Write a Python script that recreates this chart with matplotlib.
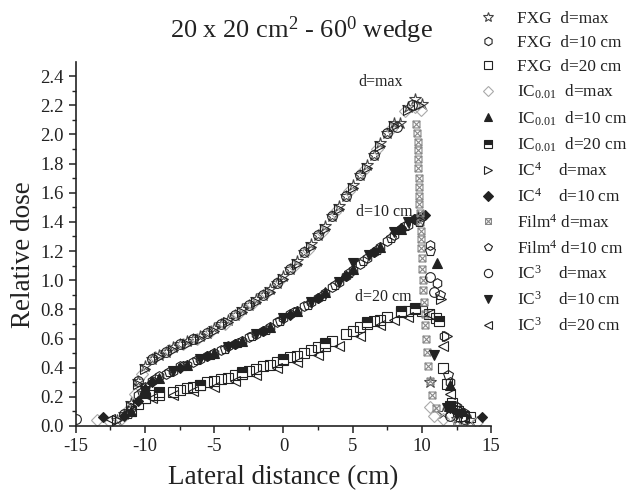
import numpy as np
import matplotlib
matplotlib.use("Agg")
import matplotlib.pyplot as plt
from matplotlib.path import Path

plt.rcParams['font.family'] = ['Liberation Serif', 'DejaVu Serif']
plt.rcParams['mathtext.fontset'] = 'custom'
plt.rcParams['mathtext.rm'] = 'Liberation Serif'
plt.rcParams['mathtext.default'] = 'regular'
plt.rcParams['axes.unicode_minus'] = False

# ---- data (lateral distance in cm, relative dose) ----
x_fxg_max = [-12.0, -11.5, -11.0, -10.5, -10.0, -9.5, -9.0, -8.5, -8.0, -7.5, -7.0, -6.5, -6.0, -5.5, -5.0,
             -4.5, -4.0, -3.5, -3.0, -2.5, -2.0, -1.5, -1.0, -0.5, 0.0, 0.5, 1.0, 1.5, 2.0, 2.5, 3.0, 3.5,
             4.0, 4.5, 5.0, 5.5, 6.0, 6.5, 7.0, 7.5, 8.0, 8.4, 9.0, 9.5, 10.0, 10.6, 11.5, 12.5, 13.5]
y_fxg_max = [0.04, 0.08, 0.16, 0.31, 0.41, 0.46, 0.49, 0.51, 0.54, 0.56, 0.58, 0.60, 0.62, 0.64, 0.67,
             0.70, 0.73, 0.76, 0.80, 0.83, 0.87, 0.90, 0.94, 0.98, 1.03, 1.08, 1.13, 1.19, 1.25, 1.31, 1.37, 1.44,
             1.51, 1.58, 1.65, 1.72, 1.79, 1.86, 1.94, 2.01, 2.08, 2.08, 2.19, 2.24, 2.21, 0.30, 0.09, 0.05, 0.04]

x_fxg_10 = [-11.0, -10.5, -10.0, -9.5, -9.0, -8.5, -8.0, -7.5, -7.0, -6.5, -6.0, -5.5, -5.0, -4.5, -4.0,
            -3.5, -3.0, -2.5, -2.0, -1.5, -1.0, -0.5, 0.0, 0.5, 1.0, 1.5, 2.0, 2.5, 3.0, 3.5, 4.0, 4.5,
            5.0, 5.5, 6.0, 6.5, 7.0, 7.5, 8.0, 8.5, 9.0, 9.5, 10.0, 10.6, 11.1, 11.6, 12.0, 12.5, 13.0]
y_fxg_10 = [0.12, 0.21, 0.27, 0.31, 0.34, 0.36, 0.38, 0.41, 0.42, 0.44, 0.46, 0.48, 0.50, 0.52, 0.55,
            0.56, 0.58, 0.61, 0.63, 0.65, 0.68, 0.71, 0.74, 0.77, 0.79, 0.82, 0.85, 0.88, 0.91, 0.95, 0.99, 1.03,
            1.07, 1.11, 1.15, 1.19, 1.23, 1.27, 1.31, 1.35, 1.38, 1.42, 1.44, 1.24, 0.98, 0.62, 0.30, 0.13, 0.09]

x_fxg_20 = [-11.0, -10.5, -10.0, -9.5, -9.0, -8.0, -7.5, -7.0, -6.5, -6.0, -5.5, -5.0, -4.5, -4.0, -3.5,
            -3.0, -2.5, -2.0, -1.5, -1.0, -0.5, 0.0, 0.5, 1.0, 1.5, 2.0, 2.5, 3.0, 3.5, 4.5, 5.0, 5.5,
            6.0, 6.5, 7.0, 7.5, 8.5, 9.0, 9.5, 10.0, 10.5, 11.0, 11.5, 11.8, 12.2, 12.6, 13.0, 13.5]
y_fxg_20 = [0.10, 0.15, 0.19, 0.21, 0.21, 0.23, 0.25, 0.26, 0.27, 0.28, 0.30, 0.31, 0.32, 0.33, 0.35,
            0.36, 0.38, 0.39, 0.41, 0.42, 0.44, 0.45, 0.47, 0.48, 0.50, 0.52, 0.54, 0.55, 0.58, 0.63, 0.65, 0.68,
            0.70, 0.72, 0.73, 0.75, 0.78, 0.79, 0.80, 0.79, 0.77, 0.74, 0.40, 0.29, 0.16, 0.10, 0.07, 0.06]

x_ic001_max = [-13.5, -12.5, -11.75, -11.25, -10.75, -10.25, -9.25, -8.25, -7.25, -6.25, -5.25, -4.25, -3.25,
               -2.25, -1.25, -0.25, 0.75, 1.75, 2.75, 3.75, 4.75, 5.75, 6.75, 7.75, 8.75, 9.5, 9.9, 10.6,
               10.9, 11.5, 12.5, 14.0]
y_ic001_max = [0.04, 0.03, 0.05, 0.11, 0.22, 0.36, 0.47, 0.52, 0.56, 0.60, 0.65, 0.70, 0.77,
               0.84, 0.91, 1.00, 1.10, 1.21, 1.33, 1.47, 1.61, 1.75, 1.90, 2.04, 2.16, 2.19, 2.17, 0.13,
               0.07, 0.05, 0.04, 0.03]

x_ic001_10 = [-11.0, -10.0, -9.0, -7.0, -5.0, -3.0, -1.0, 1.0, 3.0, 5.0, 7.0, 8.5, 9.7, 11.1, 12.0, 13.0]
y_ic001_10 = [0.10, 0.26, 0.33, 0.42, 0.50, 0.58, 0.68, 0.79, 0.92, 1.08, 1.23, 1.35, 1.44, 1.12, 0.28, 0.09]

x_ic001_20 = [-10.0, -9.0, -6.0, -3.0, 0.0, 3.0, 6.0, 8.5, 9.5, 11.2, 12.0, 12.8]
y_ic001_20 = [0.19, 0.23, 0.28, 0.37, 0.46, 0.57, 0.71, 0.79, 0.81, 0.72, 0.14, 0.07]

x_ic4_max = [-12.0, -11.0, -10.5, -10.0, -9.0, -8.0, -7.0, -6.0, -5.0, -4.0, -3.0, -2.0, -1.0, 0.0,
             1.0, 2.0, 3.0, 4.0, 5.0, 6.0, 7.0, 8.0, 9.0, 9.8, 11.4, 11.8, 12.5, 13.2]
y_ic4_max = [0.04, 0.14, 0.29, 0.39, 0.47, 0.52, 0.56, 0.60, 0.65, 0.71, 0.78, 0.85, 0.92, 1.01,
             1.11, 1.23, 1.35, 1.49, 1.63, 1.77, 1.92, 2.06, 2.17, 2.20, 0.87, 0.62, 0.12, 0.06]

x_ic4_10 = [-13.0, -11.5, -10.5, -9.5, -7.5, -5.5, -3.5, -1.5, 0.5, 2.5, 4.5, 6.5, 8.5, 9.4, 10.2, 12.0, 14.3]
y_ic4_10 = [0.06, 0.07, 0.17, 0.30, 0.40, 0.48, 0.56, 0.65, 0.76, 0.88, 1.03, 1.19, 1.36, 1.42, 1.45, 0.12, 0.06]

x_film_max = [9.6, 9.65, 9.7, 9.7, 9.7, 9.7, 9.75, 9.75, 9.8, 9.8, 9.85, 9.85, 9.9, 9.9, 9.95, 10.0,
              10.0, 10.05, 10.1, 10.15, 10.2, 10.25, 10.3, 10.35, 10.4, 10.55, 10.7, 11.0]
y_film_max = [2.07, 2.01, 1.95, 1.89, 1.83, 1.77, 1.70, 1.64, 1.58, 1.52, 1.46, 1.40, 1.34, 1.28, 1.22, 1.15,
              1.08, 1.00, 0.93, 0.85, 0.77, 0.69, 0.60, 0.51, 0.41, 0.31, 0.21, 0.12]

x_film_10 = [-11.25, -10.25, -9.25, -8.25, -7.25, -6.25, -5.25, -4.25, -3.25, -2.25, -1.25, -0.25, 0.75,
             1.75, 2.75, 3.75, 4.75, 5.75, 6.75, 7.75, 8.75, 9.75, 10.6, 11.3, 11.9, 12.4]
y_film_10 = [0.08, 0.23, 0.32, 0.37, 0.41, 0.45, 0.49, 0.53, 0.57, 0.62, 0.66, 0.72, 0.78,
             0.83, 0.89, 0.97, 1.05, 1.13, 1.21, 1.29, 1.37, 1.40, 1.20, 0.90, 0.35, 0.14]

x_ic3_max = [-15.0, -11.5, -10.5, -9.5, -8.5, -7.5, -6.5, -5.5, -4.5, -3.5, -2.5, -1.5, -0.5, 0.5,
             1.5, 2.5, 3.5, 4.5, 5.5, 6.5, 7.5, 8.2, 9.3, 10.6, 10.9, 12.0, 13.0]
y_ic3_max = [0.05, 0.08, 0.31, 0.46, 0.51, 0.56, 0.60, 0.64, 0.70, 0.76, 0.83, 0.90, 0.98, 1.08,
             1.19, 1.31, 1.44, 1.58, 1.72, 1.86, 2.01, 2.05, 2.20, 1.02, 0.92, 0.07, 0.05]

x_ic3_10 = [-10.0, -8.0, -6.0, -4.0, -2.0, 0.0, 2.0, 4.0, 5.0, 6.2, 8.0, 9.0, 10.9, 11.8, 12.5]
y_ic3_10 = [0.24, 0.38, 0.46, 0.54, 0.63, 0.74, 0.85, 0.99, 1.12, 1.17, 1.33, 1.40, 0.49, 0.12, 0.08]

x_ic3_20 = [-12.5, -9.5, -8.0, -6.5, -5.0, -3.5, -2.0, -0.5, 1.0, 2.5, 4.0, 5.5, 7.0, 8.0, 9.0, 10.5,
            11.5, 12.0, 12.5]
y_ic3_20 = [0.05, 0.19, 0.21, 0.24, 0.27, 0.31, 0.35, 0.40, 0.44, 0.49, 0.55, 0.62, 0.69, 0.73, 0.75, 0.77,
            0.55, 0.22, 0.09]

labels = ["FXG  d=max", "FXG  d=10 cm", "FXG  d=20 cm",
          "IC$_{0.01}$  d=max", "IC$_{0.01}$  d=10 cm", "IC$_{0.01}$  d=20 cm",
          "IC$^4$    d=max", "IC$^4$    d=10 cm",
          "Film$^4$ d=max", "Film$^4$ d=10 cm",
          "IC$^3$    d=max", "IC$^3$    d=10 cm", "IC$^3$    d=20 cm"]

# square with a cross inside (film marker)
box_x = Path([(-1, -1), (1, -1), (1, 1), (-1, 1), (-1, -1), (-1, -1), (1, 1), (-1, 1), (1, -1)],
             [Path.MOVETO, Path.LINETO, Path.LINETO, Path.LINETO, Path.CLOSEPOLY,
              Path.MOVETO, Path.LINETO, Path.MOVETO, Path.LINETO])

fig = plt.figure(figsize=(6.29, 4.98), dpi=100)
ax = fig.add_axes([0.1204, 0.1446, 0.6606, 0.7319])

ms = 7
mew = 0.8
dark = '#222222'
ax.plot(x_fxg_max, y_fxg_max, ls='none', marker='*', ms=ms + 2, mfc='none', mec='#444444', mew=mew, label=labels[0])
ax.plot(x_fxg_10, y_fxg_10, ls='none', marker='h', ms=ms, mfc='none', mec=dark, mew=mew, label=labels[1])
ax.plot(x_fxg_20, y_fxg_20, ls='none', marker='s', ms=ms - 0.5, mfc='none', mec=dark, mew=mew, label=labels[2])
ax.plot(x_ic001_max, y_ic001_max, ls='none', marker='D', ms=ms - 0.5, mfc='none', mec='#aaaaaa', mew=mew, label=labels[3])
ax.plot(x_ic001_10, y_ic001_10, ls='none', marker='^', ms=ms, mfc=dark, mec=dark, mew=mew, label=labels[4])
ax.plot(x_ic001_20, y_ic001_20, ls='none', marker='s', ms=ms - 0.5, fillstyle='top', mfc=dark,
        markerfacecoloralt='white', mec=dark, mew=mew, label=labels[5])
ax.plot(x_ic4_max, y_ic4_max, ls='none', marker='>', ms=ms, mfc='none', mec=dark, mew=mew, label=labels[6])
ax.plot(x_ic4_10, y_ic4_10, ls='none', marker='D', ms=ms - 1.5, mfc=dark, mec=dark, mew=mew, label=labels[7])
ax.plot(x_film_max, y_film_max, ls='none', marker=box_x, ms=ms - 2, mfc='none', mec='#888888', mew=mew, label=labels[8])
ax.plot(x_film_10, y_film_10, ls='none', marker='p', ms=ms, mfc='none', mec=dark, mew=mew, label=labels[9])
ax.plot(x_ic3_max, y_ic3_max, ls='none', marker='o', ms=ms, mfc='none', mec=dark, mew=mew, label=labels[10])
ax.plot(x_ic3_10, y_ic3_10, ls='none', marker='v', ms=ms, mfc=dark, mec=dark, mew=mew, label=labels[11])
ax.plot(x_ic3_20, y_ic3_20, ls='none', marker='<', ms=ms, mfc='none', mec=dark, mew=mew, label=labels[12])

ax.text(7.0, 2.36, "d=max", fontsize=11.5, ha='center', va='center', color=dark)
ax.text(7.25, 1.47, "d=10 cm", fontsize=11.5, ha='center', va='center', color=dark)
ax.text(7.2, 0.885, "d=20 cm", fontsize=11.5, ha='center', va='center', color=dark)

ax.set_xlim(-15, 15)
ax.set_ylim(0, 2.5)
ax.set_xticks([-15, -10, -5, 0, 5, 10, 15])
ax.set_xticks(np.arange(-12.5, 15, 5), minor=True)
ax.set_yticks(np.arange(0, 2.41, 0.2))
ax.set_yticks(np.arange(0.1, 2.5, 0.2), minor=True)
ax.yaxis.set_major_formatter(matplotlib.ticker.FormatStrFormatter('%.1f'))
ax.tick_params(which='major', direction='out', length=5, width=1.1, labelsize=13.5, colors=dark)
ax.tick_params(which='minor', direction='out', length=3, width=1.0, colors=dark)
for s in ['top', 'right']:
    ax.spines[s].set_visible(False)
for s in ['left', 'bottom']:
    ax.spines[s].set_linewidth(1.2)
    ax.spines[s].set_color(dark)

ax.set_xlabel("Lateral distance (cm)", fontsize=19.5, color=dark)
ax.xaxis.set_label_coords(0.5, -0.143)
ax.xaxis.label.set_va('center')
ax.set_ylabel("Relative dose", fontsize=19.5, color=dark)
ax.yaxis.set_label_coords(-0.125, 0.469)
ax.yaxis.label.set_va('center')

fig.text(0.479, 0.94, "20 x 20 cm$^2$ - 60$^0$ wedge", fontsize=19, ha='center', va='center', color=dark)

leg = ax.legend(loc='upper left', bbox_to_anchor=(0.762, 0.978), bbox_transform=fig.transFigure,
                frameon=False, fontsize=12.4, labelspacing=0.46, handlelength=1.0, handletextpad=1.2,
                borderaxespad=0, borderpad=0, markerscale=0.85)
for t in leg.get_texts():
    t.set_color(dark)

fig.savefig("out.png", dpi=100)
